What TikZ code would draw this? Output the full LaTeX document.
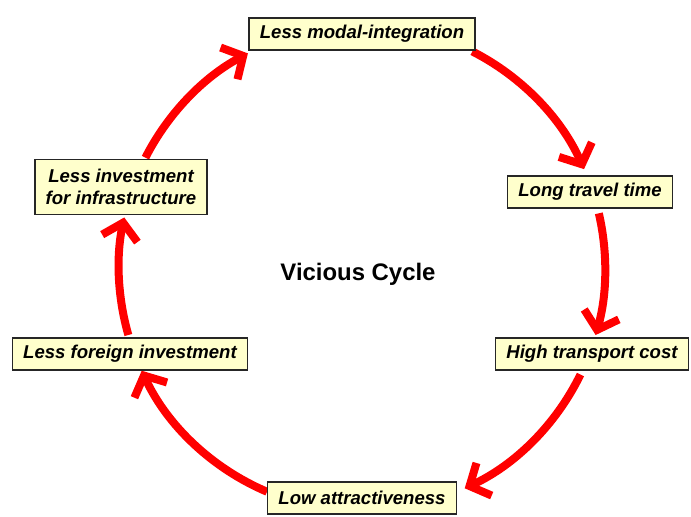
\documentclass[tikz,border=0pt]{standalone}
\usepackage{fontspec}
\setmainfont{Liberation Sans}
\usetikzlibrary{arrows.meta}
\definecolor{notepad}{RGB}{255,255,204}

\begin{document}
\begin{tikzpicture}[x=0.025cm, y=0.025cm,
    stage/.style={draw=black!85, line width=0.9pt, fill=notepad, align=center,
      inner xsep=0.27cm, inner ysep=0.1cm, minimum height=0.8cm,
      font=\fontsize{13.2}{15.8}\selectfont\bfseries\itshape},
    cyc/.style={draw=red, line width=0.2cm,
      -{Straight Barb[length=0.4cm, width=0.9cm]}}]
  \useasboundingbox (0,0) rectangle (691,516);
  \coordinate (hub) at (362,248);

  % red ring, one arc from box to box
  \draw[cyc] (hub) ++(63:6.075cm) arc[start angle=63, end angle=24, radius=6.075cm];
  \draw[cyc] (hub) ++(13:6.075cm) arc[start angle=13, end angle=-16, radius=6.075cm];
  \draw[cyc] (hub) ++(-26:6.075cm) arc[start angle=-26, end angle=-65, radius=6.075cm];
  \draw[cyc] (hub) ++(-113:6.075cm) arc[start angle=-113, end angle=-155, radius=6.075cm];
  \draw[cyc] (hub) ++(-164:6.075cm) arc[start angle=-164, end angle=-192, radius=6.075cm];
  \draw[cyc] (hub) ++(153:6.075cm) arc[start angle=153, end angle=118, radius=6.075cm];

  \node[stage] (modal) at (362,482) {Less modal-integration};
  \node[stage] (travel) at (590,324) {Long travel time};
  \node[stage] (cost) at (592,162) {High transport cost};
  \node[stage] (attract) at (362,18) {Low attractiveness};
  \node[stage] (foreign) at (130,162) {Less foreign investment};
  \node[stage, minimum height=1.37cm] (infra) at (121,329) {Less investment\\for infrastructure};

  \node[font=\fontsize{17}{20}\selectfont\bfseries] (title) at (358,242) {Vicious Cycle};
\end{tikzpicture}
\end{document}
